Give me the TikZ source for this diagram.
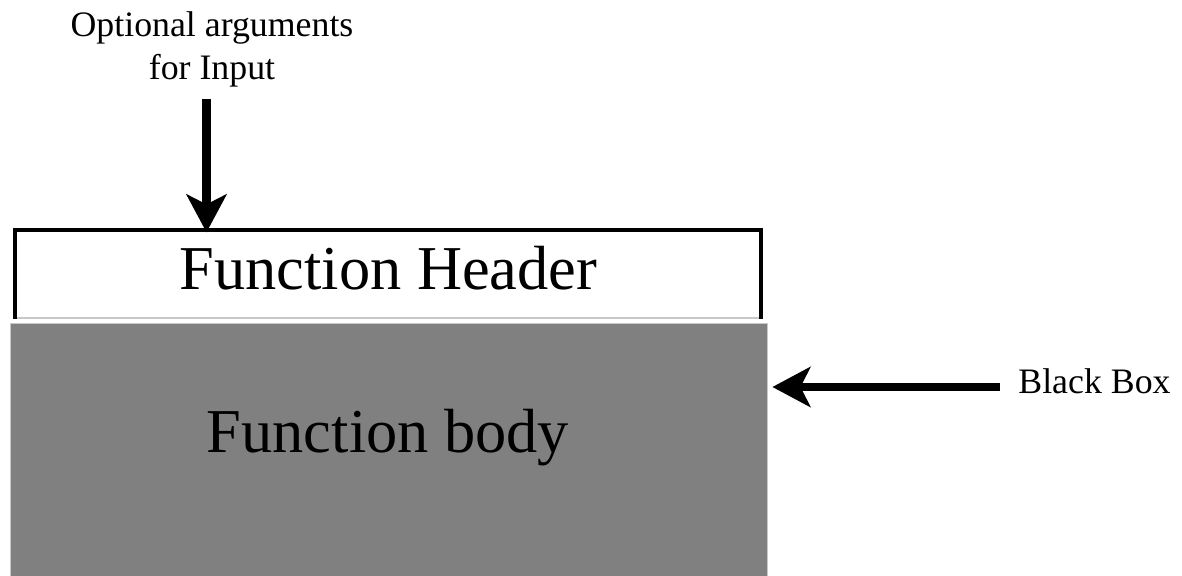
\documentclass[tikz,border=0pt]{standalone}
\usepackage{fontspec}
\setmainfont{Liberation Serif}
\usetikzlibrary{arrows.meta}
\definecolor{bodygray}{HTML}{808080}
\definecolor{edgegray}{HTML}{C8C8C8}
\tikzset{
  px/.style={x=0.5pt,y=-0.5pt},
  arr/.style={line width=4.2pt,-{Stealth[length=19pt,width=20pt,inset=5pt]}},
  small/.style={font=\fontsize{17.9pt}{21.5pt}\selectfont,inner sep=0pt},
  big/.style={font=\fontsize{31.2pt}{36pt}\selectfont,inner sep=0pt},
  frame/.style={line width=2pt,line cap=rect},
  bodybox/.style={fill=bodygray,draw=edgegray,line width=0.4pt,inner sep=0pt,minimum width=378.5pt,minimum height=128.5pt},
  headbox/.style={fill=white,draw=edgegray,line width=0.6pt,inner sep=0pt,minimum width=372.25pt,minimum height=43.75pt},
}
\begin{document}
\begin{tikzpicture}[px]
\useasboundingbox (0,0) rectangle (1182,576);
% body
\node[bodybox] (body) at (388.5,451.5) {};
% header
\node[headbox] (header) at (388.25,274.25) {};
\draw[frame] ([yshift=1pt]header.south west) -- (header.north west) -- (header.north east) -- ([yshift=1pt]header.south east);
% texts
\node[big,anchor=base] (htext) at (388.5,290) {Function Header};
\node[big,anchor=base] (btext) at (388,453) {Function body};
\node[small,anchor=base west] (bb) at (1018,394) {Black Box};
\node[small,anchor=base,align=center] (opt) at (212,80) {Optional arguments\\for Input};
% arrows
\coordinate (a1) at (206.5,99);
\draw[arr,shorten >=-1.25pt] (a1) -- (a1 |- header.north);
\coordinate (a2) at (1000,387);
\draw[arr,shorten >=2.5pt] (a2) -- (a2 -| body.east);
\end{tikzpicture}
\end{document}
